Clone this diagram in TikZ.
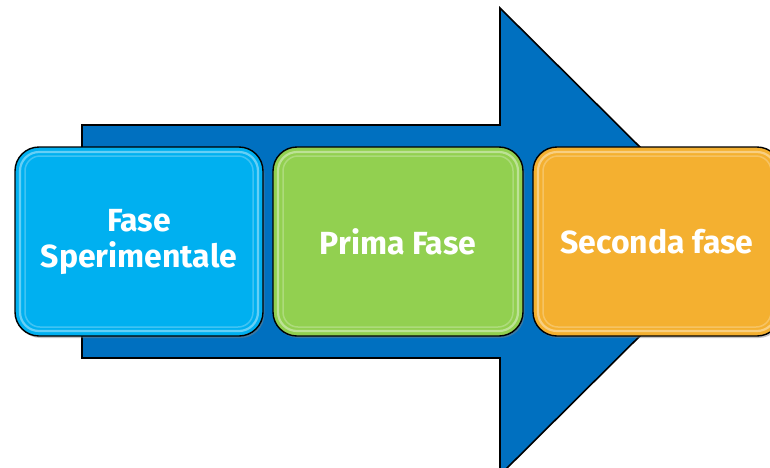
\documentclass[tikz,border=0pt]{standalone}
\usepackage{fontspec}
\setmainfont{Fira Sans}
\usetikzlibrary{shadows}
\definecolor{arrowblue}{HTML}{0070C0}
\definecolor{boxblue}{HTML}{00B0F0}
\definecolor{boxgreen}{HTML}{92D050}
\definecolor{boxorange}{HTML}{F4B030}
\tikzset{
  bigarrow/.style={fill=arrowblue, draw=black, line width=1.6pt, line join=miter},
  phase/.style={draw=black, line width=1.4pt, rounded corners=24pt,
    minimum height=189pt, text=white, align=center,
    font=\bfseries\fontsize{32}{36}\selectfont,
    drop shadow={shadow xshift=1.5pt, shadow yshift=-2pt, opacity=.45},
    path picture={
      \draw[white, opacity=.4, line width=2.2pt, rounded corners=19pt]
        ([shift={(5pt,-5pt)}]path picture bounding box.north west) rectangle
        ([shift={(-5pt,5pt)}]path picture bounding box.south east);
      \draw[white, opacity=.25, line width=1.5pt, rounded corners=15pt]
        ([shift={(10pt,-9pt)}]path picture bounding box.north west) rectangle
        ([shift={(-10pt,9pt)}]path picture bounding box.south east);
    }},
}
\begin{document}
\begin{tikzpicture}[x=1pt,y=-1pt]
\useasboundingbox (0,0) rectangle (770,467);
\clip (0,0) rectangle (770,467);
\draw[bigarrow] (82,125) -- (500,125) -- (500,8) -- (735,241.5) -- (500,475) -- (500,358) -- (82,358) -- cycle;
\node[phase, fill=boxblue, minimum width=248pt] (b1) at (139,241.5) {Fase\\Sperimentale};
\node[phase, fill=boxgreen, minimum width=250pt] (b2) at (398,241.5) {Prima Fase};
\node[phase, fill=boxorange, minimum width=248pt] (b3) at (657,241.5) {Seconda fase};
\end{tikzpicture}
\end{document}
